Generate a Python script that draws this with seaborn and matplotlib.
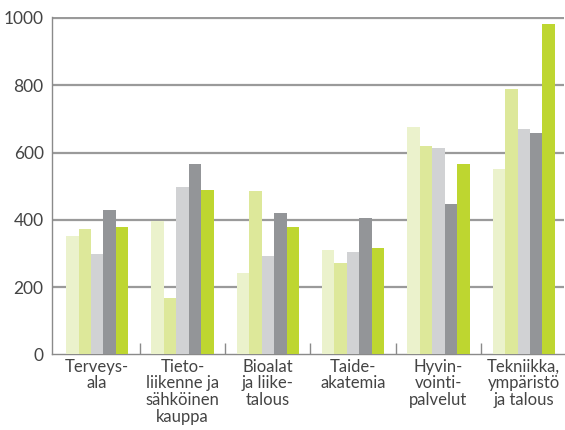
import matplotlib
matplotlib.use("Agg")
import matplotlib.pyplot as plt
import seaborn as sns
import pandas as pd
import numpy as np

categories = [
    "Terveys-\nala",
    "Tieto-\nliikenne ja\nsähköinen\nkauppa",
    "Bioalat\nja liike-\ntalous",
    "Taide-\nakatemia",
    "Hyvin-\nvointi-\npalvelut",
    "Tekniikka,\nympäristö\nja talous",
]
series_names = ["S1", "S2", "S3", "S4", "S5"]
s1 = [352, 396, 241, 310, 677, 550]
s2 = [372, 167, 487, 271, 621, 790]
s3 = [298, 499, 292, 304, 615, 671]
s4 = [428, 567, 419, 407, 446, 659]
s5 = [378, 490, 378, 316, 567, 982]
yticks = [0, 200, 400, 600, 800, 1000]

colors = ["#ebf2cc", "#dde89a", "#d1d2d4", "#939598", "#bed630"]

rows = []
for name, vals in zip(series_names, [s1, s2, s3, s4, s5]):
    for cat, v in zip(categories, vals):
        rows.append({"category": cat, "series": name, "value": v})
df = pd.DataFrame(rows)

sns.set_theme(style="white")
plt.rcParams["font.family"] = ["Lato", "DejaVu Sans"]

fig = plt.figure(figsize=(5.65, 4.30), dpi=100)
ax = fig.add_axes([0.092, 0.1756, 0.906, 0.785])

sns.barplot(data=df, x="category", y="value", hue="series",
            palette=colors, width=0.73, gap=0, saturation=1,
            linewidth=0, ax=ax, legend=False, zorder=3)

ax.set_ylim(0, 1003)
ax.set_xlim(-0.53, len(categories) - 0.53)
ax.set_yticks(yticks)
ax.set_yticklabels([str(t) for t in yticks])
for t in yticks[1:]:
    ax.axhline(t, color="#9a9a9a", lw=1.6, zorder=1)

ax.set_xlabel("")
ax.set_ylabel("")
for side in ["top", "right"]:
    ax.spines[side].set_visible(False)
ax.spines["left"].set_color("#8a8a8a")
ax.spines["left"].set_linewidth(1.0)
ax.spines["bottom"].set_color("#8a8a8a")
ax.spines["bottom"].set_linewidth(1.0)

# category names, with small inward ticks on the baseline between groups
ax.set_xticks(np.arange(len(categories)))
ax.set_xticklabels(categories, fontsize=12, color="#444444",
                   linespacing=1.05)
ax.tick_params(axis="x", length=0, pad=3)
ax.set_xticks(np.arange(0.5, len(categories) - 0.5, 1), minor=True)
ax.tick_params(axis="x", which="minor", direction="in", length=8,
               width=1, color="#8a8a8a", bottom=True)
ax.tick_params(axis="y", length=0, labelsize=12.5, labelcolor="#444444", pad=6)

fig.savefig("out.png", dpi=100)
